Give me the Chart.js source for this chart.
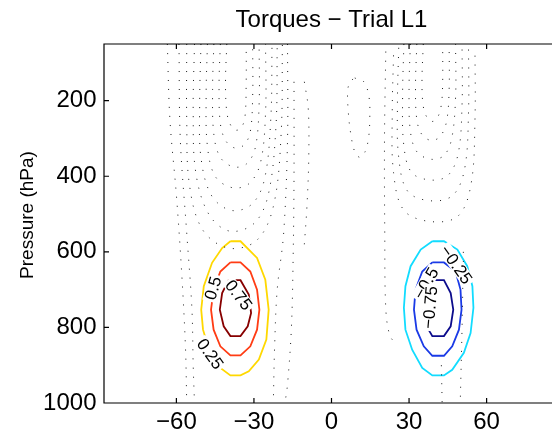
<!DOCTYPE html>
<html><head><meta charset="utf-8">
<script src="https://cdn.jsdelivr.net/npm/chart.js@4.4.1/dist/chart.umd.min.js"></script>
<style>html,body{margin:0;padding:0;overflow:hidden;background:#fff;width:552px;height:440px}canvas{display:block}</style>
</head><body><canvas id="c" width="570" height="440" style="width:570px;height:440px"></canvas>
<script>
const FONT = '"Liberation Sans", Arial, Helvetica, sans-serif';
const titleText = 'Torques \u2212 Trial L1';
const yLabelText = 'Pressure (hPa)';
const xTicks = [-60, -30, 0, 30, 60];
const xTickLabels = ['\u221260', '\u221230', '0', '30', '60'];
const yTicks = [200, 400, 600, 800, 1000];
const yTickLabels = ['200', '400', '600', '800', '1000'];

// filled-contour lines, [longitude, pressure]
const pos025 = [[-39.1,572],[-35.2,572],[-28.8,616],[-25.6,674],[-24.3,753],[-25.2,832],[-28.1,885],[-32.0,916],[-35.2,927],[-39.1,927],[-43.0,907],[-46.8,872],[-49.7,806],[-50.4,753],[-49.4,691],[-46.2,629],[-42.3,590],[-39.1,572]];
const pos050 = [[-39.1,628],[-35.2,628],[-31.4,652],[-28.8,700],[-27.9,753],[-28.8,806],[-31.4,850],[-35.2,874],[-39.1,874],[-43.0,850],[-45.6,806],[-46.6,753],[-45.6,700],[-43.0,652],[-39.1,628]];
const pos075 = [[-39.8,675],[-35.2,675],[-32.0,713],[-31.1,762],[-32.4,797],[-35.2,823],[-39.1,823],[-41.7,797],[-43.2,753],[-42.3,709],[-39.8,675]];
const neg025 = [[39.0,572],[43.5,572],[48.7,594],[52.5,638],[54.5,691],[54.9,748],[53.8,815],[51.2,867],[46.7,912],[43.5,927],[39.0,927],[35.1,907],[31.2,859],[28.6,806],[28.0,748],[28.6,691],[30.6,638],[34.5,594],[39.0,572]];
const neg050 = [[39.0,628],[43.5,628],[48.0,652],[49.9,700],[50.3,753],[49.3,806],[46.7,850],[43.5,875],[39.0,875],[35.7,850],[32.9,806],[31.9,753],[32.5,700],[35.1,652],[39.0,628]];
const neg075 = [[39.0,675],[43.5,675],[46.1,709],[47.1,753],[46.1,797],[43.5,823],[39.0,823],[36.8,797],[35.7,753],[37.0,709],[39.0,675]];

// dotted (small-value) contour lines, [longitude, pressure]
const dottedWest = [
  [[-40.5,50],[-41,150],[-40.5,230],[-39,265],[-37,278],[-35,272],[-33.5,245],[-33,150],[-33,50]],
  [[-43,50],[-43.5,160],[-43,260],[-41,305],[-37.5,325],[-34,318],[-31.5,285],[-30.5,190],[-30.5,50]],
  [[-45.5,50],[-46,170],[-45.5,290],[-43,350],[-38,375],[-33,368],[-29.5,325],[-28,210],[-28,50]],
  [[-48,50],[-48.5,190],[-48,320],[-45,400],[-38.5,430],[-32,420],[-27.5,365],[-25.5,230],[-25.5,50]],
  [[-50.5,50],[-51,210],[-50.5,350],[-46.5,450],[-39,490],[-31,475],[-26,410],[-23.5,250],[-23,50]],
  [[-53,50],[-53.5,230],[-52.5,390],[-47.5,500],[-39.5,545],[-30,525],[-24.5,450],[-21.5,270],[-21,50]],
  [[-56,50],[-56,250],[-55,420],[-50,540],[-40,590],[-29,570],[-22.5,480],[-19.5,290],[-19,50]],
  [[-59,50],[-58.5,300],[-56,550],[-54,750],[-53.5,900],[-53,1000]],
  [[-17,50],[-17,300],[-18.5,550],[-21,700],[-22,850],[-22.5,1000]],
  [[-63.5,50],[-62.5,250],[-60,450],[-58,650],[-56.5,850],[-56,1000]],
  [[-14.5,150],[-14.5,400],[-14.8,600],[-15.5,800],[-17,950],[-18,1000]],
  [[-10.5,150],[-9,220],[-8.8,350],[-9.5,480],[-10.5,580]]
];
const dottedEast = [
  [[35.5,50],[35,150],[35.5,215],[37,245],[39,255],[41,245],[42.5,210],[43,150],[43,50]],
  [[33,50],[32.5,160],[33,250],[35,290],[38.5,305],[42,295],[44.5,255],[45.5,170],[45.5,50]],
  [[30.5,50],[30,170],[30.5,280],[33,335],[38.5,355],[43.5,345],[46.5,300],[48,190],[48,50]],
  [[28,50],[27.5,190],[28,320],[31,390],[38.5,410],[45,398],[49,340],[50.5,210],[50.5,50]],
  [[26,60],[25.5,210],[26,350],[29.5,440],[38.5,465],[47,450],[51.5,380],[53,230],[53,50]],
  [[24,80],[23.5,230],[24,390],[28,490],[38.5,520],[49,505],[54,420],[55.5,250],[55.5,60]],
  [[21,70],[20.5,300],[20.6,550],[21,750],[22.5,820],[25,845]],
  [[9,140],[12.5,150],[14.5,190],[14.8,250],[14.3,300],[13,335],[11,350],[9,335],[7.5,290],[6.5,230],[6.3,170],[7.5,148],[9,140]],
  [[42.5,900],[42.8,1000]],
  [[51,600],[50.5,800],[49.8,1000]]
];

const contourLabels = [
  {text:'0.25', lon:-46.9, p:870, angle:54},
  {text:'0.5', lon:-45.9, p:696, angle:-74},
  {text:'0.75', lon:-35.9, p:714, angle:53},
  {text:'\u22120.25', lon:48.3, p:634, angle:55},
  {text:'\u22120.5', lon:36.5, p:683, angle:-60},
  {text:'\u22120.75', lon:38.0, p:747, angle:-85}
];

const toXY = arr => arr.map(q => ({x:q[0], y:q[1]}));
const datasets = [];
dottedWest.concat(dottedEast).forEach(c => datasets.push({
  data: toXY(c), showLine:true, pointRadius:0, borderColor:'rgba(0,0,0,0.9)', borderWidth:1,
  borderDash:[1,8], tension:0.35, fill:false
}));
[[pos025,'#ffd800'],[pos050,'#ff3c14'],[pos075,'#870000'],[neg025,'#12dcff'],[neg050,'#1a3ae6'],[neg075,'#0c0c8c']].forEach(([c,col]) => datasets.push({
  data: toXY(c), showLine:true, pointRadius:0, borderColor:col, borderWidth:1.8, tension:0, fill:false
}));

const frame = {
  id:'frame',
  afterDatasetsDraw(chart){
    const ctx = chart.ctx, xs = chart.scales.x, ys = chart.scales.y;
    ctx.save();
    ctx.font = '17px ' + FONT; ctx.textAlign = 'center'; ctx.textBaseline = 'middle';
    contourLabels.forEach(l => {
      const px = xs.getPixelForValue(l.lon), py = ys.getPixelForValue(l.p);
      ctx.save(); ctx.translate(px, py); ctx.rotate(l.angle * Math.PI / 180);
      const w = ctx.measureText(l.text).width;
      ctx.fillStyle = '#fff'; ctx.fillRect(-w/2 - 2, -7, w + 4, 14);
      ctx.fillStyle = '#000'; ctx.fillText(l.text, 0, 1);
      ctx.restore();
    });
    ctx.restore();
  },
  afterDraw(chart){
    const ctx = chart.ctx, a = chart.chartArea, xs = chart.scales.x, ys = chart.scales.y;
    ctx.save();
    ctx.strokeStyle = '#000'; ctx.lineWidth = 1.2;
    ctx.beginPath();
    ctx.rect(a.left, a.top, a.right - a.left, a.bottom - a.top);
    xTicks.forEach(v => { const x = xs.getPixelForValue(v);
      ctx.moveTo(x, a.bottom); ctx.lineTo(x, a.bottom - 5);
      ctx.moveTo(x, a.top); ctx.lineTo(x, a.top + 5); });
    yTicks.forEach(v => { const y = ys.getPixelForValue(v);
      ctx.moveTo(a.left, y); ctx.lineTo(a.left + 5, y);
      ctx.moveTo(a.right, y); ctx.lineTo(a.right - 5, y); });
    ctx.stroke();
    ctx.fillStyle = '#000';
    ctx.font = '24px ' + FONT; ctx.textAlign = 'center'; ctx.textBaseline = 'alphabetic';
    ctx.fillText(titleText, (a.left + a.right) / 2, 26.5);
    ctx.save();
    ctx.translate(33, 215); ctx.rotate(-Math.PI / 2);
    ctx.font = '19px ' + FONT; ctx.fillText(yLabelText, 0, 0);
    ctx.restore();
    ctx.restore();
  }
};

new Chart(document.getElementById('c'), {
  type:'scatter',
  data:{datasets},
  options:{
    responsive:false, animation:false, devicePixelRatio:1,
    layout:{padding:{top:44, right:11, bottom:0, left:0}},
    plugins:{legend:{display:false}, tooltip:{enabled:false}, title:{display:false}},
    scales:{
      x:{type:'linear', min:-88, max:88,
        afterBuildTicks: s => { s.ticks = xTicks.map(v => ({value:v})); },
        afterFit: s => { s.height = 37; },
        grid:{display:false, drawTicks:false}, border:{display:false},
        ticks:{padding:5, color:'#000', font:{family:FONT, size:24}, maxRotation:0, autoSkip:false,
          callback: v => xTickLabels[xTicks.indexOf(v)]}},
      y:{type:'linear', min:50, max:1000, reverse:true,
        afterBuildTicks: s => { s.ticks = yTicks.map(v => ({value:v})); },
        afterFit: s => { s.width = 104; },
        grid:{display:false, drawTicks:false}, border:{display:false},
        ticks:{padding:7.5, color:'#000', font:{family:FONT, size:24}, autoSkip:false,
          callback: v => yTickLabels[yTicks.indexOf(v)]}}
    }
  },
  plugins:[frame]
});
</script></body></html>
